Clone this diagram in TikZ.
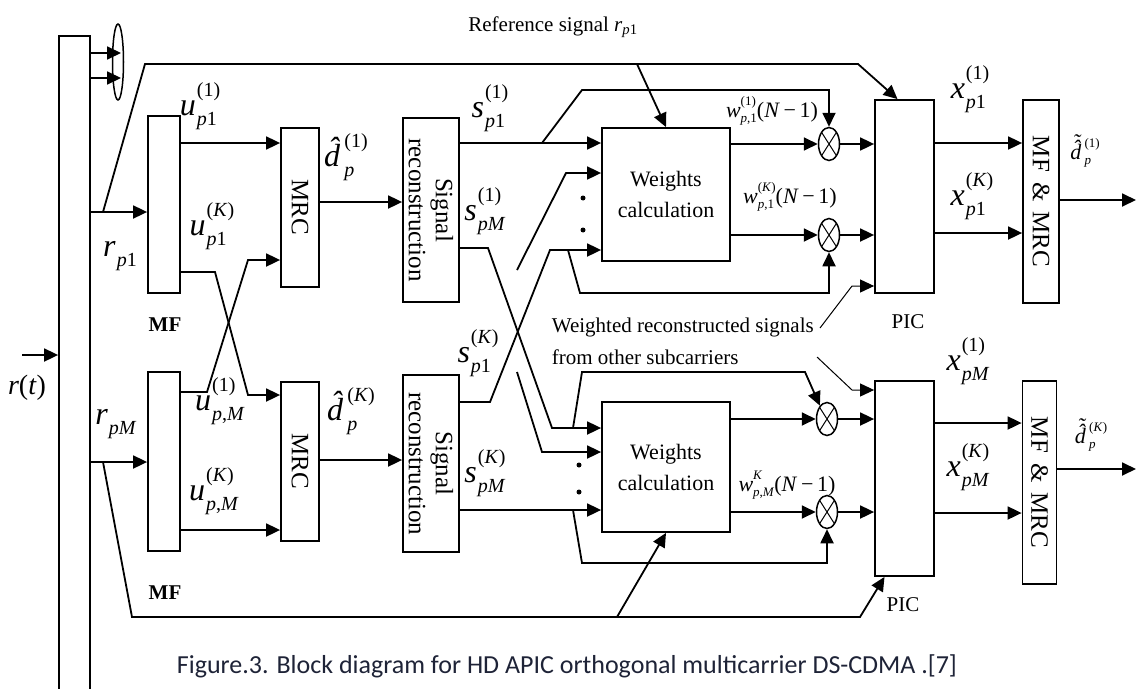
\RequirePackage{fix-cm}
\documentclass[tikz,border=0pt]{standalone}
\usepackage{fontspec}
\setmainfont{Liberation Serif}
\newfontfamily\capfont{Carlito}
\usetikzlibrary{arrows.meta,shapes.geometric,calc}
\definecolor{captc}{RGB}{30,35,55}
\newcommand\lab[3]{\textit{#1}\kern1pt\raisebox{-10pt}{\fontsize{20}{29}\selectfont\begin{tabular}[b]{@{}l@{}}#2\\#3\end{tabular}}}
\newcommand\labw[3]{\textit{#1}\raisebox{-5pt}{\fontsize{13}{17}\selectfont\begin{tabular}[b]{@{}l@{}}#2\\#3\end{tabular}}}
\newcommand\dhatc{\rlap{\hspace{0.12em}\raisebox{0.2em}{\symbol{"02C6}}}\textit{d}\kern0.1em}
\newcommand\dtilhat{\rlap{\hspace{0.12em}\raisebox{0.2em}{\symbol{"02C6}}}\rlap{\hspace{0.12em}\raisebox{0.46em}{\symbol{"02DC}}}\textit{d}\kern0.15em}
\tikzset{
  blk/.style={draw, line width=1.8pt, inner sep=0pt},
  mul/.style={ellipse, draw, line width=1.5pt, minimum width=21pt, minimum height=33pt, inner sep=0pt,
    path picture={\draw[line width=1pt] (path picture bounding box.north west)--(path picture bounding box.south east)
      (path picture bounding box.north east)--(path picture bounding box.south west);}},
  arr/.style={-{Triangle[length=14pt,width=13pt]}},
  lbl/.style={font=\fontsize{32}{34}\selectfont, inner sep=0pt},
  wl/.style={font=\fontsize{22}{24}\selectfont, inner sep=0pt},
  rot/.style={rotate=-90, font=\fontsize{25}{27}\selectfont, align=center, inner sep=0pt},
  txt/.style={font=\fontsize{21}{24}\selectfont, inner sep=0pt}
}
\begin{document}
\begin{tikzpicture}[x=1pt,y=-1pt,line width=1.8pt]
\useasboundingbox (0,0) rectangle (1137,688);
% blocks
\node[blk, minimum width=31pt, minimum height=668pt] (bar) at (74.5,370) {};
\node[ellipse, draw, line width=1.5pt, minimum width=11pt, minimum height=76pt, inner sep=0pt] (ell) at (118,62) {};
\node[blk, minimum width=32pt, minimum height=177pt] (mf1) at (164,204.5) {};
\node[blk, minimum width=32pt, minimum height=179pt] (mf2) at (164,461.5) {};
\node[blk, minimum width=38pt, minimum height=159pt] (mrc1) at (300,207.5) {};
\node[blk, minimum width=38pt, minimum height=159pt] (mrc2) at (300,461.5) {};
\node[blk, minimum width=56pt, minimum height=184pt] (sr1) at (431,210) {};
\node[blk, minimum width=56pt, minimum height=177pt] (sr2) at (431,463.5) {};
\node[blk, minimum width=128pt, minimum height=133pt, align=center, font=\fontsize{22}{31}\selectfont] (wc1) at (666,194.5) {Weights\\calculation};
\node[blk, minimum width=128pt, minimum height=130pt, align=center, font=\fontsize{22}{31}\selectfont] (wc2) at (666,467) {Weights\\calculation};
\node[blk, minimum width=59pt, minimum height=193pt] (pic1) at (904.5,196.5) {};
\node[blk, minimum width=59pt, minimum height=195pt] (pic2) at (904.5,478.5) {};
\node[blk, minimum width=36pt, minimum height=203pt] (out1) at (1041,201.5) {};
\node[blk, minimum width=34pt, minimum height=203pt] (out2) at (1039.5,482.5) {};
\node[mul] (m1) at (829,144) {};
\node[mul] (m2) at (829,235) {};
\node[mul] (m3) at (827,419) {};
\node[mul] (m4) at (827,512) {};
% rotated texts
\node[rot] at (mrc1) {MRC};
\node[rot] at (mrc2) {MRC};
\node[rot] at (sr1) {Signal\\reconstruction};
\node[rot] at (sr2) {Signal\\reconstruction};
\node[rot] at (out1) {MF\hspace{10pt}\&\hspace{10pt}MRC};
\node[rot] at (out2) {MF\hspace{10pt}\&\hspace{10pt}MRC};
% coordinates
\coordinate (rt) at (22,355);
\coordinate (e1) at (121,53); \coordinate (e2) at (121,78);
\coordinate (b1) at (103,212); \coordinate (b2) at (103,462);
\coordinate (t1) at (145,64); \coordinate (t2) at (858,64); \coordinate (t3) at (637,64);
\coordinate (y143) at (0,143); \coordinate (y530) at (0,530);
\coordinate (y202) at (0,202); \coordinate (y460) at (0,460);
\coordinate (y233) at (0,233); \coordinate (y510) at (0,510);
\coordinate (y423) at (0,423); \coordinate (y513) at (0,513);
\coordinate (c1) at (215,272); \coordinate (c2) at (248,395);
\coordinate (c3) at (207,392); \coordinate (c4) at (248,260);
\coordinate (d1) at (542,143); \coordinate (k1) at (582,90);
\coordinate (f1) at (488,248); \coordinate (f2) at (552,428);
\coordinate (g1) at (573,428); \coordinate (g2) at (582,372); \coordinate (g3) at (805,372);
\coordinate (h1) at (490,402); \coordinate (h2) at (550,250);
\coordinate (i1) at (568,250); \coordinate (i2) at (580,293);
\coordinate (o1) at (517,270); \coordinate (o2) at (566,173);
\coordinate (o3) at (517,372); \coordinate (o4) at (542,452);
\coordinate (l1) at (573,510); \coordinate (l2) at (582,563);
\coordinate (w1) at (820,328); \coordinate (w2) at (852,286);
\coordinate (w3) at (817,357); \coordinate (w4) at (852,390);
\coordinate (p1) at (132,617); \coordinate (p2) at (860,617); \coordinate (p3) at (617,617);
\coordinate (q1) at (1136,200); \coordinate (q2) at (1136,469);
% connectors upper
\draw[arr] (rt) -- (bar.west |- rt);
\draw[arr] (bar.east |- e1) -- (e1);
\draw[arr] (bar.east |- e2) -- (e2);
\draw[arr] (bar.east |- b1) -- (mf1.west |- b1);
\draw[arr] (b1) -- (t1) -- (t2) -- ([xshift=-7pt]pic1.north);
\draw[arr] (t3) -- (wc1.north);
\draw[arr] (mf1.east |- y143) -- (mrc1.west |- y143);
\draw[arr] (mf1.east |- c1) -- (c1) -- (c2) -- (mrc2.west |- c2);
\draw[arr] (mf2.east |- c3) -- (c3) -- (c4) -- (mrc1.west |- c4);
\draw[arr] (mf2.east |- y530) -- (mrc2.west |- y530);
\draw[arr] (mrc1.east |- y202) -- (sr1.west |- y202);
\draw[arr] (mrc2.east |- y460) -- (sr2.west |- y460);
\draw[arr] (sr1.east |- y143) -- (wc1.west |- y143);
\draw[arr] (d1) -- (k1) -- (m1.north |- k1) -- (m1.north);
\draw[arr] (sr1.east |- f1) -- (f1) -- (f2) -- (wc2.west |- f2);
\draw[arr] (g1) -- (g2) -- (g3) -- (m3.118);
\draw[arr] (sr2.east |- h1) -- (h1) -- (h2) -- (wc1.west |- h2);
\draw[arr] (i1) -- (i2) -- (m2.south |- i2) -- (m2.south);
\draw[arr] (o1) -- (o2) -- (wc1.west |- o2);
\fill (583,198) circle (2.5pt); \fill (583,230) circle (2.5pt);
\draw[arr] (wc1.east |- m1) -- (m1.west);
\draw[arr] (wc1.east |- m2) -- (m2.west);
\draw[arr] (m1.east) -- (pic1.west |- m1);
\draw[arr] (m2.east) -- (pic1.west |- m2);
\draw[arr, line width=1pt] (w1) -- (w2) -- (pic1.west |- w2);
\draw[arr] (pic1.east |- y143) -- (out1.west |- y143);
\draw[arr] (pic1.east |- y233) -- (out1.west |- y233);
\draw[arr] (out1.east |- q1) -- (q1);
% connectors lower
\draw[arr] (bar.east |- b2) -- (mf2.west |- b2);
\draw[arr] (b2) -- (p1) -- (p2) -- ([xshift=-20pt]pic2.south);
\draw[arr] (p3) -- (wc2.south);
\draw[arr] (o3) -- (o4) -- (wc2.west |- o4);
\draw[arr] (sr2.east |- y510) -- (wc2.west |- y510);
\draw[arr] (l1) -- (l2) -- (m4.south |- l2) -- (m4.south);
\fill (579,465) circle (2.5pt); \fill (579,492) circle (2.5pt);
\draw[arr] (wc2.east |- m3) -- (m3.west);
\draw[arr] (wc2.east |- m4) -- (m4.west);
\draw[arr] (m3.east) -- (pic2.west |- m3);
\draw[arr] (m4.east) -- (pic2.west |- m4);
\draw[arr, line width=1pt] (w3) -- (w4) -- (pic2.west |- w4);
\draw[arr] (pic2.east |- y423) -- (out2.west |- y423);
\draw[arr] (pic2.east |- y513) -- (out2.west |- y513);
\draw[arr] (out2.east |- q2) -- (q2);
% labels
\node[txt] (reft) at (553,27) {Reference signal \textit{r}\textsubscript{\textit{p}1}};
\node[lbl, font=\fontsize{28}{30}\selectfont] (lrt) at (27,388) {\textit{r}(\textit{t})};
\node[lbl] (lrp1) at (120,246) {\lab{r}{}{\textit{p}1}};
\node[lbl] (lrpm) at (116,414) {\lab{r}{}{\textit{pM}}};
\node[lbl] (lu1) at (200,105) {\lab{u}{(1)}{\textit{p}1}};
\node[lbl] (lu2) at (212,225) {\lab{u}{(\textit{K})}{\textit{p}1}};
\node[lbl] (lu3) at (220,400) {\lab{u}{(1)}{\textit{p},\textit{M}}};
\node[lbl] (lu4) at (214,490) {\lab{u}{(\textit{K})}{\textit{p},\textit{M}}};
\node[txt, font=\fontsize{21}{24}\selectfont\bfseries] (lmf1) at (165,325) {MF};
\node[txt, font=\fontsize{21}{24}\selectfont\bfseries] (lmf2) at (165,593) {MF};
\node[lbl] (ld1) at (346,156) {\lab{\dhatc}{(1)}{\textit{p}}};
\node[lbl] (ld2) at (351,410) {\lab{\dhatc}{(\textit{K})}{\textit{p}}};
\node[lbl] (ls1) at (490,107) {\lab{s}{(1)}{\textit{p}1}};
\node[lbl] (ls2) at (485,210) {\lab{s}{(1)}{\textit{pM}}};
\node[lbl] (ls3) at (478,352) {\lab{s}{(\textit{K})}{\textit{p}1}};
\node[lbl] (ls4) at (485,472) {\lab{s}{(\textit{K})}{\textit{pM}}};
\node[wl] (lw1) at (772,111) {\labw{w}{(1)}{\textit{p},1}(\textit{N}\,−\,1)};
\node[wl] (lw2) at (790,197) {\labw{w}{(\textit{K})}{\textit{p},1}(\textit{N}\,−\,1)};
\node[wl] (lw3) at (787,485) {\labw{w}{\textit{K}}{\textit{p},\textit{M}}(\textit{N}\,−\,1)};
\node[lbl] (lx1) at (970,88) {\lab{x}{(1)}{\textit{p}1}};
\node[lbl] (lx2) at (972,195) {\lab{x}{(\textit{K})}{\textit{p}1}};
\node[lbl] (lx3) at (968,360) {\lab{x}{(1)}{\textit{pM}}};
\node[lbl] (lx4) at (968,466) {\lab{x}{(\textit{K})}{\textit{pM}}};
\node[txt] (lpic1) at (908,322) {PIC};
\node[txt] (lpic2) at (903,605) {PIC};
\node[wl] (lo1) at (1085,152) {\labw{\dtilhat}{(1)}{\textit{p}}};
\node[wl] (lo2) at (1091,436) {\labw{\dtilhat}{(\textit{K})}{\textit{p}}};
\node[anchor=west, align=left, inner sep=0pt, font=\fontsize{21}{32}\selectfont] (wrs) at (551,341) {Weighted reconstructed signals\\from other subcarriers};
\node[font=\capfont\fontsize{26}{30}\selectfont, text=captc, inner sep=0pt] (cap) at (567,666) {Figure.3. Block diagram for HD APIC orthogonal multicarrier DS-CDMA .[7]};
\end{tikzpicture}
\end{document}
